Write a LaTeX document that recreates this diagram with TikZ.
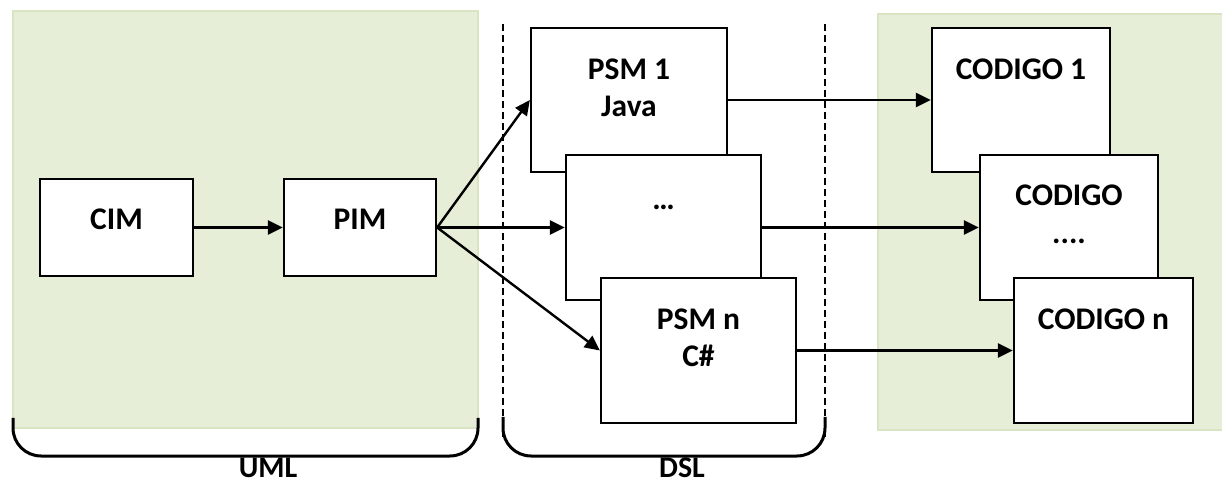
\documentclass[tikz,border=0pt]{standalone}
\usepackage{fontspec}
\setmainfont{Carlito}
\usetikzlibrary{arrows.meta}
\definecolor{panelfill}{HTML}{E6EED8}
\definecolor{panelline}{HTML}{D9E5C2}
\tikzset{
  panel/.style={fill=panelfill, draw=panelline, line width=1.2bp},
  mbox/.style={draw=black, fill=white, line width=2.3bp, inner sep=0pt},
  txt/.style={font=\bfseries\fontsize{31.5bp}{37.5bp}\selectfont, inner sep=0pt, anchor=base},
  captxt/.style={font=\bfseries\fontsize{30bp}{36bp}\selectfont, inner sep=0pt, anchor=base},
  arr/.style={line width=2.4bp, -{Triangle[length=15bp,width=14bp]}},
  divider/.style={line width=1.5bp, dash pattern=on 7bp off 4bp},
  brace/.style={line width=3bp, rounded corners=28bp},
}
\begin{document}
\begin{tikzpicture}[x=1bp, y=-1bp]
\useasboundingbox (0,0) rectangle (1222,483);
% panels
\path[panel] (13,11) rectangle (478,428);
\path[panel] (878,14) rectangle (1230,430);
\clip (0,0) rectangle (1222,483);
% dashed dividers
\coordinate (d1t) at (503,24); \coordinate (d1b) at (503,437);
\coordinate (d2t) at (825,24); \coordinate (d2b) at (825,437);
\draw[divider] (d1t) -- (d1b);
\draw[divider] (d2t) -- (d2b);
% brackets
\coordinate (u1) at (13,418); \coordinate (u2) at (13,456);
\coordinate (u3) at (478,456); \coordinate (u4) at (478,418);
\draw[brace] (u1) -- (u2) -- (u3) -- (u4);
\coordinate (s1) at (503,417); \coordinate (s2) at (503,456);
\coordinate (s3) at (825,456); \coordinate (s4) at (825,417);
\draw[brace] (s1) -- (s2) -- (s3) -- (s4);
\node[captxt] (uml) at (268,477.5) {UML};
\node[captxt] (dsl) at (682,477.5) {DSL};
% left boxes
\node[mbox, minimum width=153bp, minimum height=97bp] (cim) at (116.5,227.5) {};
\node[mbox, minimum width=152bp, minimum height=97bp] (pim) at (360,227.5) {};
\node[txt] (cimt) at ([yshift=-52bp]cim.north) {CIM};
\node[txt] (pimt) at ([yshift=-52bp]pim.north) {PIM};
% PSM boxes
\node[mbox, minimum width=196bp, minimum height=144bp] (psm1) at (629,100) {};
\node[txt] (psm1a) at ([yshift=-53bp]psm1.north) {PSM 1};
\node[txt] (psm1b) at ([yshift=-37bp]psm1a.base) {Java};
\node[mbox, minimum width=195bp, minimum height=145bp] (psm2) at (663.5,227.5) {};
\node[txt] (psm2a) at ([yshift=-56bp]psm2.north) {\ldots};
\node[mbox, minimum width=195bp, minimum height=145bp] (psmn) at (698.5,350.5) {};
\node[txt] (psmna) at ([yshift=-53bp]psmn.north) {PSM n};
\node[txt] (psmnb) at ([yshift=-37bp]psmna.base) {C\#};
% CODIGO boxes
\node[mbox, minimum width=178bp, minimum height=144bp] (cod1) at (1021,100) {};
\node[txt] (cod1a) at ([yshift=-53bp]cod1.north) {CODIGO 1};
\node[mbox, minimum width=178bp, minimum height=145bp] (cod2) at (1069,227.5) {};
\node[txt] (cod2a) at ([yshift=-52bp]cod2.north) {CODIGO};
\node[txt] (cod2b) at ([yshift=-38bp]cod2a.base) {....};
\node[mbox, minimum width=179bp, minimum height=145bp] (codn) at (1103.5,350.5) {};
\node[txt] (codna) at ([yshift=-53bp]codn.north) {CODIGO n};
% connectors
\draw[arr] (cim.east) -- (pim.west);
\draw[arr] (pim.east) -- (psm1.west);
\draw[arr] (pim.east) -- (psm2.west);
\draw[arr] (pim.east) -- (psmn.west);
\draw[arr] (psm1.east) -- (cod1.west);
\draw[arr] (psm2.east) -- (cod2.west);
\draw[arr] (psmn.east) -- (codn.west);
\end{tikzpicture}
\end{document}
